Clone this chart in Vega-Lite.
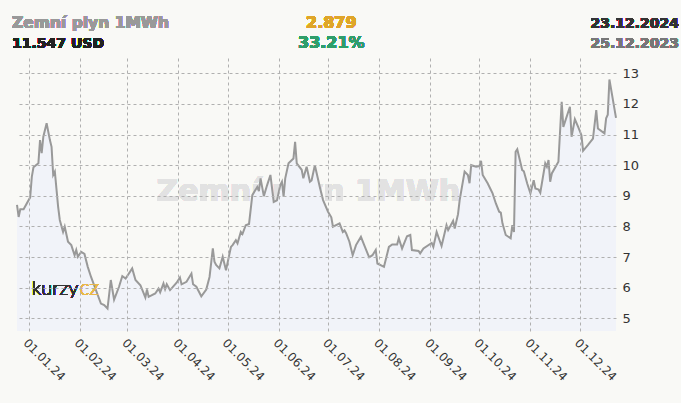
{
  "$schema": "https://vega.github.io/schema/vega-lite/v6.json",
  "width": 599,
  "height": 273,
  "autosize": {"type": "none"},
  "padding": {"left": 17, "top": 58, "right": 65, "bottom": 72},
  "background": "#f9f9f6",
  "config": {"view": {"stroke": null}, "font": "DejaVu Sans", "axis": {"labelOverlap": false}},
  "data": {"values": [
    {"d":"2023-12-25","v":8.70},{"d":"2023-12-26","v":8.31},{"d":"2023-12-27","v":8.56},{"d":"2023-12-29","v":8.56},
    {"d":"2024-01-02","v":8.95},{"d":"2024-01-03","v":9.62},{"d":"2024-01-04","v":9.93},{"d":"2024-01-07","v":10.06},
    {"d":"2024-01-08","v":10.82},{"d":"2024-01-09","v":10.39},{"d":"2024-01-10","v":10.93},{"d":"2024-01-12","v":11.37},
    {"d":"2024-01-14","v":10.82},{"d":"2024-01-15","v":10.60},{"d":"2024-01-16","v":9.68},{"d":"2024-01-17","v":9.79},
    {"d":"2024-01-19","v":8.64},{"d":"2024-01-20","v":8.21},{"d":"2024-01-22","v":7.82},{"d":"2024-01-23","v":7.99},
    {"d":"2024-01-25","v":7.50},{"d":"2024-01-27","v":7.39},{"d":"2024-01-29","v":7.06},{"d":"2024-01-30","v":7.23},
    {"d":"2024-01-31","v":7.01},{"d":"2024-02-02","v":7.17},{"d":"2024-02-04","v":7.10},{"d":"2024-02-06","v":6.68},
    {"d":"2024-02-08","v":6.35},{"d":"2024-02-14","v":5.48},{"d":"2024-02-16","v":5.43},{"d":"2024-02-18","v":5.32},
    {"d":"2024-02-20","v":6.25},{"d":"2024-02-22","v":5.61},{"d":"2024-02-25","v":6.03},{"d":"2024-02-27","v":6.38},
    {"d":"2024-02-29","v":6.30},{"d":"2024-03-04","v":6.63},{"d":"2024-03-06","v":6.25},{"d":"2024-03-09","v":6.08},
    {"d":"2024-03-12","v":5.68},{"d":"2024-03-13","v":5.94},{"d":"2024-03-14","v":5.70},{"d":"2024-03-18","v":5.81},
    {"d":"2024-03-20","v":5.97},{"d":"2024-03-21","v":5.85},{"d":"2024-03-23","v":6.14},{"d":"2024-03-24","v":5.95},
    {"d":"2024-03-25","v":6.11},{"d":"2024-03-27","v":5.92},{"d":"2024-03-31","v":6.16},{"d":"2024-04-02","v":6.33},
    {"d":"2024-04-03","v":6.11},{"d":"2024-04-06","v":6.19},{"d":"2024-04-09","v":6.46},{"d":"2024-04-10","v":6.11},
    {"d":"2024-04-12","v":6.03},{"d":"2024-04-15","v":5.72},{"d":"2024-04-18","v":5.94},{"d":"2024-04-20","v":6.35},
    {"d":"2024-04-22","v":7.28},{"d":"2024-04-23","v":6.85},{"d":"2024-04-24","v":6.74},{"d":"2024-04-26","v":6.63},
    {"d":"2024-04-28","v":7.01},{"d":"2024-04-30","v":6.57},{"d":"2024-05-03","v":7.33},{"d":"2024-05-04","v":7.39},
    {"d":"2024-05-06","v":7.55},{"d":"2024-05-07","v":7.45},{"d":"2024-05-09","v":7.82},{"d":"2024-05-10","v":7.75},
    {"d":"2024-05-12","v":8.04},{"d":"2024-05-14","v":8.08},{"d":"2024-05-16","v":9.02},{"d":"2024-05-19","v":9.29},
    {"d":"2024-05-20","v":9.15},{"d":"2024-05-21","v":9.57},{"d":"2024-05-23","v":8.99},{"d":"2024-05-25","v":9.35},
    {"d":"2024-05-27","v":9.68},{"d":"2024-05-29","v":8.80},{"d":"2024-05-31","v":8.85},{"d":"2024-06-02","v":9.35},
    {"d":"2024-06-03","v":9.46},{"d":"2024-06-04","v":8.97},{"d":"2024-06-05","v":9.57},{"d":"2024-06-07","v":10.06},
    {"d":"2024-06-10","v":10.22},{"d":"2024-06-11","v":10.76},{"d":"2024-06-12","v":10.06},{"d":"2024-06-15","v":9.85},
    {"d":"2024-06-16","v":9.57},{"d":"2024-06-18","v":9.95},{"d":"2024-06-20","v":9.46},{"d":"2024-06-21","v":9.50},
    {"d":"2024-06-23","v":10.00},{"d":"2024-06-26","v":9.29},{"d":"2024-06-28","v":8.86},{"d":"2024-07-01","v":8.48},
    {"d":"2024-07-03","v":8.30},{"d":"2024-07-04","v":7.99},{"d":"2024-07-08","v":8.10},{"d":"2024-07-10","v":7.82},
    {"d":"2024-07-11","v":7.87},{"d":"2024-07-12","v":7.78},{"d":"2024-07-14","v":7.50},{"d":"2024-07-16","v":7.06},
    {"d":"2024-07-18","v":7.39},{"d":"2024-07-21","v":7.66},{"d":"2024-07-23","v":7.39},{"d":"2024-07-26","v":6.99},
    {"d":"2024-07-28","v":7.06},{"d":"2024-07-30","v":7.23},{"d":"2024-07-31","v":6.79},{"d":"2024-08-04","v":6.68},
    {"d":"2024-08-07","v":7.33},{"d":"2024-08-09","v":7.41},{"d":"2024-08-12","v":7.41},{"d":"2024-08-13","v":7.61},
    {"d":"2024-08-15","v":7.28},{"d":"2024-08-18","v":7.68},{"d":"2024-08-20","v":7.72},{"d":"2024-08-21","v":7.23},
    {"d":"2024-08-25","v":7.20},{"d":"2024-08-26","v":7.12},{"d":"2024-08-28","v":7.28},{"d":"2024-09-02","v":7.46},
    {"d":"2024-09-03","v":7.33},{"d":"2024-09-05","v":7.82},{"d":"2024-09-08","v":7.36},{"d":"2024-09-11","v":8.04},
    {"d":"2024-09-12","v":7.88},{"d":"2024-09-15","v":8.18},{"d":"2024-09-16","v":7.93},{"d":"2024-09-18","v":8.40},
    {"d":"2024-09-19","v":8.86},{"d":"2024-09-22","v":9.79},{"d":"2024-09-24","v":9.68},{"d":"2024-09-25","v":9.41},
    {"d":"2024-09-26","v":10.00},{"d":"2024-09-29","v":9.95},{"d":"2024-10-01","v":9.97},{"d":"2024-10-02","v":10.14},
    {"d":"2024-10-03","v":9.68},{"d":"2024-10-06","v":9.41},{"d":"2024-10-08","v":9.19},{"d":"2024-10-09","v":9.08},
    {"d":"2024-10-11","v":8.75},{"d":"2024-10-13","v":8.48},{"d":"2024-10-14","v":8.45},{"d":"2024-10-15","v":8.10},
    {"d":"2024-10-17","v":7.72},{"d":"2024-10-20","v":7.61},{"d":"2024-10-21","v":8.04},{"d":"2024-10-22","v":7.82},
    {"d":"2024-10-23","v":10.44},{"d":"2024-10-24","v":10.52},{"d":"2024-10-27","v":9.84},{"d":"2024-10-28","v":9.80},
    {"d":"2024-10-30","v":9.41},{"d":"2024-11-01","v":9.08},{"d":"2024-11-03","v":9.51},{"d":"2024-11-04","v":9.24},
    {"d":"2024-11-06","v":9.20},{"d":"2024-11-07","v":9.10},{"d":"2024-11-10","v":10.06},{"d":"2024-11-11","v":9.95},
    {"d":"2024-11-12","v":10.17},{"d":"2024-11-13","v":9.46},{"d":"2024-11-14","v":9.73},{"d":"2024-11-18","v":10.11},
    {"d":"2024-11-20","v":12.07},{"d":"2024-11-21","v":11.25},{"d":"2024-11-25","v":11.91},{"d":"2024-11-26","v":10.93},
    {"d":"2024-11-28","v":11.50},{"d":"2024-11-30","v":11.25},{"d":"2024-12-02","v":10.98},{"d":"2024-12-03","v":10.47},
    {"d":"2024-12-06","v":10.66},{"d":"2024-12-09","v":10.87},{"d":"2024-12-11","v":11.80},{"d":"2024-12-12","v":11.20},
    {"d":"2024-12-16","v":11.04},{"d":"2024-12-17","v":11.53},{"d":"2024-12-18","v":11.65},{"d":"2024-12-19","v":12.80},
    {"d":"2024-12-23","v":11.547}
  ]},
  "layer": [
    {
      "mark": {"type": "text", "text": "Zemní plyn 1MWh", "fontSize": 30, "fontWeight": "bold", "color": "#e2e2e2", "align": "center", "baseline": "middle"},
      "encoding": {
        "x": {"datum": {"year": 2024, "month": 6, "date": 19, "utc": true}, "type": "temporal"},
        "y": {"datum": 9.12, "type": "quantitative"}
      }
    },
    {
      "mark": {"type": "area", "color": "#f1f3f9", "opacity": 1},
      "encoding": {
        "x": {
          "field": "d", "type": "temporal", "title": null,
          "scale": {"type": "utc", "domain": [{"year": 2023, "month": 12, "date": 25, "utc": true}, {"year": 2024, "month": 12, "date": 23, "utc": true}], "nice": false},
          "axis": {
            "orient": "bottom", "format": "%d.%m.%y", "labelAngle": 45, "labelAlign": "left", "labelBaseline": "top",
            "labelFontSize": 12, "labelColor": "#333", "labelPadding": 6, "labelOverlap": false, "tickCount": 12,
            "values": [
              {"year": 2024, "month": 1, "date": 1, "utc": true}, {"year": 2024, "month": 2, "date": 1, "utc": true},
              {"year": 2024, "month": 3, "date": 1, "utc": true}, {"year": 2024, "month": 4, "date": 1, "utc": true},
              {"year": 2024, "month": 5, "date": 1, "utc": true}, {"year": 2024, "month": 6, "date": 1, "utc": true},
              {"year": 2024, "month": 7, "date": 1, "utc": true}, {"year": 2024, "month": 8, "date": 1, "utc": true},
              {"year": 2024, "month": 9, "date": 1, "utc": true}, {"year": 2024, "month": 10, "date": 1, "utc": true},
              {"year": 2024, "month": 11, "date": 1, "utc": true}, {"year": 2024, "month": 12, "date": 1, "utc": true}
            ],
            "grid": true, "gridDash": [3, 3], "gridColor": "#b0b0b0", "domain": false, "ticks": false, "zindex": 1
          }
        },
        "y": {
          "field": "v", "type": "quantitative", "title": null,
          "scale": {"domain": [4.585, 13.5], "nice": false, "zero": false},
          "axis": {
            "orient": "right", "values": [5, 6, 7, 8, 9, 10, 11, 12, 13], "tickCount": 9, "labelFontSize": 13, "labelColor": "#333",
            "labelPadding": 6, "labelOverlap": false, "labelFlush": false, "grid": true, "gridDash": [3, 3], "gridColor": "#b0b0b0", "domain": false, "ticks": false, "zindex": 1
          }
        },
        "y2": {"datum": 4.585}
      }
    },
    {
      "mark": {"type": "line", "color": "#999999", "strokeWidth": 2},
      "encoding": {
        "x": {"field": "d", "type": "temporal"},
        "y": {"field": "v", "type": "quantitative"}
      }
    },
    {
      "mark": {"type": "text", "text": "kurzy", "font": "Lato", "fontWeight": 300, "fontSize": 20, "color": "#333", "align": "left", "baseline": "alphabetic"},
      "encoding": {
        "x": {"datum": {"year": 2024, "month": 1, "date": 3, "utc": true}, "type": "temporal"},
        "y": {"datum": 5.76, "type": "quantitative"}
      }
    },
    {
      "mark": {"type": "text", "text": "cz", "font": "Lato", "fontWeight": 300, "fontSize": 21, "color": "#e8b84a", "align": "left", "baseline": "alphabetic"},
      "encoding": {
        "x": {"datum": {"year": 2024, "month": 2, "date": 1, "utc": true}, "type": "temporal"},
        "y": {"datum": 5.76, "type": "quantitative"}
      }
    },
    {
      "mark": {"type": "text", "text": "Zemní plyn 1MWh", "fontSize": 15.5, "fontWeight": "bold", "color": "#999999", "align": "left", "baseline": "alphabetic"},
      "encoding": {
        "x": {"datum": {"year": 2023, "month": 12, "date": 22, "utc": true}, "type": "temporal"},
        "y": {"datum": 14.48, "type": "quantitative"}
      }
    },
    {
      "mark": {"type": "text", "text": "11.547 USD", "fontSize": 14, "fontWeight": "bold", "color": "#222222", "align": "left", "baseline": "alphabetic"},
      "encoding": {
        "x": {"datum": {"year": 2023, "month": 12, "date": 22, "utc": true}, "type": "temporal"},
        "y": {"datum": 13.83, "type": "quantitative"}
      }
    },
    {
      "mark": {"type": "text", "text": "2.879", "fontSize": 16, "fontWeight": "bold", "color": "#dfa52a", "align": "center", "baseline": "alphabetic"},
      "encoding": {
        "x": {"datum": {"year": 2024, "month": 7, "date": 3, "utc": true}, "type": "temporal"},
        "y": {"datum": 14.48, "type": "quantitative"}
      }
    },
    {
      "mark": {"type": "text", "text": "33.21%", "fontSize": 16, "fontWeight": "bold", "color": "#2f9e6b", "align": "center", "baseline": "alphabetic"},
      "encoding": {
        "x": {"datum": {"year": 2024, "month": 7, "date": 3, "utc": true}, "type": "temporal"},
        "y": {"datum": 13.83, "type": "quantitative"}
      }
    },
    {
      "mark": {"type": "text", "text": "23.12.2024", "fontSize": 14, "fontWeight": "bold", "color": "#333333", "align": "right", "baseline": "alphabetic"},
      "encoding": {
        "x": {"datum": {"year": 2025, "month": 1, "date": 30, "hours": 7, "utc": true}, "type": "temporal"},
        "y": {"datum": 14.48, "type": "quantitative"}
      }
    },
    {
      "mark": {"type": "text", "text": "25.12.2023", "fontSize": 14, "fontWeight": "bold", "color": "#777777", "align": "right", "baseline": "alphabetic"},
      "encoding": {
        "x": {"datum": {"year": 2025, "month": 1, "date": 30, "hours": 7, "utc": true}, "type": "temporal"},
        "y": {"datum": 13.83, "type": "quantitative"}
      }
    }
  ]
}
